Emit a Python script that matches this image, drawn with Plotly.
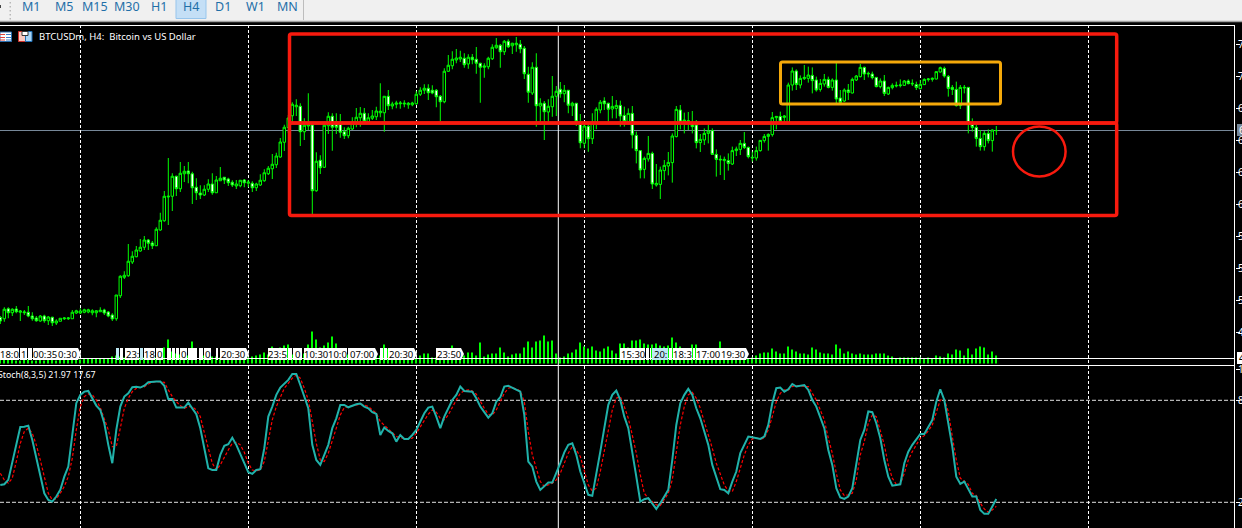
import plotly.graph_objects as go

# ---------- data ----------
opens = [
51000,50900,51700,51380,51680,51420,51380,51420,51120,50960,
50720,51120,50740,51020,50560,50700,50900,50900,50900,51360,
51360,51420,51440,51380,51380,51460,51600,51440,51200,50900,
52740,54220,54340,55440,55860,56320,56620,57200,56960,56740,
58000,58740,60640,60700,62300,61300,62500,62720,62500,61420,
60960,60800,61260,61680,60980,61940,62220,62080,61820,61520,
61540,62000,61740,61740,61380,61600,61940,62500,62900,63220,
63840,65020,66200,67140,67860,67900,65860,66320,66400,61140,
63580,63020,66340,67100,66660,66480,65860,65540,66080,66660,
66980,67340,66660,66940,67060,67380,67380,68700,67920,68060,
68100,68080,68020,68020,68100,68860,69180,69340,69180,69180,
68700,68260,70700,71140,71600,71680,71740,71280,71820,71660,
71340,71020,71060,71700,72580,72780,72260,73100,72740,72820,
72860,72540,70460,68960,71020,67920,68140,67440,67860,68700,
69260,68900,69180,67940,68140,66460,64940,66300,65300,66640,
67600,68320,68140,67680,67730,67970,67170,66670,67330,65570,
64350,62850,63680,64130,61600,61650,62750,63120,63390,65470,
67600,66670,66640,66640,66400,64990,65200,65730,65950,64050,
63600,63550,63550,63280,64350,64450,64930,64610,63760,63760,
64350,65150,65490,65630,66990,67090,67010,66610,69600,70720,
69600,70110,70130,70370,70000,69250,69680,70050,69410,70000,
68560,68320,69200,68960,70000,70270,71010,70480,70480,70210,
69470,69920,68880,69390,69520,69550,69570,69920,69680,69630,
69310,69630,70030,70050,70080,70640,70930,70290,69410,69250,
67950,69360,69410,66450,66210,65330,64670,65730,65150,65950]
highs = [
51120,51820,51820,51740,51920,51600,51600,51920,51420,51120,
51200,51220,51120,51060,50860,50940,51020,51040,51600,51620,
51740,51700,51700,51660,51600,51820,51700,51520,51340,52800,
54380,54700,56880,56300,56720,57280,57520,57280,57120,58220,
59380,61120,63760,62540,62340,63440,63120,63440,62660,62140,
61580,61580,62060,62540,62320,63040,62220,62180,61980,62000,
62000,62080,62000,61900,61780,62460,62860,63120,64080,64180,
65360,66420,67200,68220,68460,68140,66940,68940,66660,64220,
63980,66540,67420,67340,67340,67280,66220,66260,67020,67760,
67840,67760,67340,67600,67860,69740,68720,69200,68260,68340,
68320,68380,68240,68260,69100,69420,69660,69660,69580,69280,
68800,70940,72000,72300,72480,72340,72140,72060,72080,72640,
71380,71340,71860,72860,73360,72880,73200,73260,72980,73440,
73200,72720,71060,71420,72140,68540,68320,68460,70320,69520,
69840,69600,69200,68260,68140,67280,66660,66400,67340,67820,
68400,68620,68180,68720,68400,68350,67870,67730,67920,65870,
64400,63870,65520,64270,63280,63070,63600,64240,65730,67920,
68000,67390,67440,67520,66800,65680,66130,66450,66130,64450,
63970,63870,64130,64670,64670,65200,65840,64670,64270,64670,
65200,65680,65730,67440,67120,67470,67200,69790,71010,70850,
70370,71200,71070,71010,70270,70080,70480,70270,70130,71390,
69200,69330,69680,70190,70400,71280,71070,70670,70670,70210,
70130,70400,69470,69730,69870,70050,70000,70050,70050,69870,
70000,70130,70160,70210,70670,71070,71070,70400,69600,69870,
69600,69600,69410,66930,66400,66000,65920,66050,66050,66320]
lows = [
50480,50660,50940,51120,51340,50720,51200,51020,50740,50660,
50660,50580,50400,50320,50400,50700,50800,50800,50900,51280,
51280,51340,51340,51180,51020,51440,51200,51020,50720,50740,
52560,54080,54260,55280,55820,56260,56400,56400,56480,56720,
57940,58660,58400,59520,60720,61040,61840,61740,60080,60400,
60480,60720,61040,60820,60980,61940,61680,61520,61440,61280,
61420,61420,61420,61040,61120,61520,61860,62400,62080,62960,
63780,64320,65760,66660,67120,64720,65200,66000,59120,61060,
62480,62960,65680,64340,65680,65380,65280,65340,66000,66220,
66260,66540,66580,66800,66800,67020,65860,67600,67660,67740,
67700,67820,67700,67900,68020,68720,68880,68400,68860,67820,
66700,68140,70640,70860,71340,71440,70980,70900,71260,70500,
68180,70180,70860,71600,72500,70980,72000,72560,72080,72260,
72140,70080,68180,68800,66260,66400,65200,66540,67060,67120,
68580,68220,67340,67120,66320,64540,64540,64260,64880,66060,
67340,67600,66660,66930,66930,66270,66270,66450,64530,63330,
62130,62130,63470,61280,61470,60480,62000,62370,61790,65410,
66050,65730,66000,65730,64530,64240,64800,64930,64000,62270,
62400,62000,62750,63200,63920,64000,64480,63730,63470,63550,
64270,64990,64350,65470,66050,66530,66590,66530,69150,69200,
69330,70000,69790,68930,69070,69070,69470,69330,69150,68130,
68130,68240,68400,68930,69920,70210,70000,70210,70050,69410,
69330,68720,68800,69250,69410,69410,69520,69650,69520,69200,
69250,69600,69870,69870,70050,70590,70190,68670,68800,67870,
67680,68930,65730,65870,64670,64350,64350,64930,64270,65600]
closes = [
50720,51660,51380,51660,51460,51520,51440,51120,50900,50740,
51120,50740,51040,50580,50720,50940,50960,50960,51420,51540,
51520,51620,51620,51540,51540,51580,51360,51120,50880,52800,
54300,54380,55500,55900,56400,56620,57200,56940,56740,58060,
58780,60700,60700,62300,61300,62540,62700,62500,61380,60980,
60800,61260,61680,60980,62000,62140,62000,61780,61600,61680,
61980,61780,61840,61380,61680,61980,62580,62940,63260,63920,
65040,66220,66960,68060,67980,65860,66380,66400,61140,63500,
62980,66380,67100,66220,66220,65820,65540,66140,66660,67020,
67340,66700,66980,67120,67520,67500,68700,67940,68080,68160,
68160,68140,68140,68160,68860,69180,69340,68980,68960,68660,
68260,70700,71180,71660,71760,71820,71220,71820,71620,71340,
71020,71120,71740,72620,72780,72260,73100,72660,72940,72940,
72500,70500,69020,71020,67940,68140,67460,67900,68700,69100,
68900,69180,67980,68140,66660,64980,66320,65300,66660,67660,
68220,68100,67660,67890,67970,67120,66670,67330,65600,64350,
62800,63730,64130,61680,61730,62800,63170,63410,65520,67650,
66640,66800,66750,66270,64990,65250,65730,65920,64050,63650,
63650,63650,63330,64350,64480,64930,64610,63870,63810,64350,
65170,65490,65650,66990,67090,66670,67120,69600,70720,69650,
70130,70210,70400,69950,69200,69730,70050,69410,70000,68480,
68210,69200,69010,70050,70320,71010,70480,70530,70190,69470,
69920,68930,69410,69570,69570,69600,69920,69710,69730,69410,
69650,70050,70080,70130,70670,70990,70320,69330,69250,67950,
69410,69410,66530,66210,65330,64670,65730,65150,66000,65960]
volumes = [
4,4,4,4,3,3,4,4,3,3,4,3,4,4,3,4,4,4,4,4,
4,5,5,5,5,5,5,5,7,8,7,6,7,6,6,6,6,5,5,6,
8,16,24,12,10,9,8,8,22,10,9,8,8,7,7,6,7,6,7,7,
6,6,6,7,8,9,11,9,17,15,16,18,19,9,8,8,10,19,32,24,
16,18,21,27,20,12,10,9,9,8,9,10,9,8,8,8,19,15,6,5,
4,4,4,4,5,8,10,10,6,6,6,7,7,18,7,8,8,11,11,8,
21,7,9,10,10,16,11,7,9,10,10,16,22,16,22,23,28,22,23,10,
6,7,10,11,14,21,17,15,17,13,12,15,17,13,10,20,20,16,23,23,
24,20,19,19,20,18,17,18,26,21,17,12,10,19,19,10,10,10,10,10,
22,8,8,8,8,8,8,5,6,8,10,11,11,15,12,10,10,17,14,12,
10,10,9,16,14,11,10,10,9,19,15,10,12,10,9,10,9,9,9,10,
10,10,8,7,5,6,6,6,6,6,6,5,6,5,8,7,6,10,9,14,
13,8,15,9,15,17,16,9,12,8]
stoch_main = [
30.2,30.6,33.2,44,54.7,64.3,64.5,65.1,56.7,45.9,37.1,25.3,21.4,20.4,23.4,27.3,35.1,41,59.6,78.3,
83.2,85.1,85.5,81.2,76.9,74.3,66.5,53.8,43,62.6,76.3,82.2,84.1,87.7,87.9,87.5,88.6,90.6,91,91,
91,88.6,80.8,80.8,75.7,75.7,75.7,78.6,75.3,71.8,63.6,51.8,40,39,39,47.9,53.2,54.2,58,53.8,
48.9,43,37.7,36.7,39,39.5,51.8,70.4,76.3,83.2,87.5,90,92,95.5,95.5,89,82.2,75.3,53.8,44.9,
42,47.9,53.8,63.6,69.4,77.3,77.3,75.9,76.9,77.7,78.1,76.3,75.3,73,72,59.6,64,62,60.6,55.7,59.6,
57.3,57.3,59.6,62.6,67.5,72.4,75.7,76.3,70.4,63.6,70.4,75.3,80.2,83.2,88.1,85.5,85.5,85.1,81.2,
76.3,73,69.8,72.4,79.2,81.8,88.1,88.6,87.5,86.1,85.1,71.4,44,41,32.2,27.3,29.3,31.6,31.6,37.1,
43,49.4,53.8,54.7,47.9,38.1,31.2,24.4,23.8,36.1,49.8,63.6,77.3,83.2,85.7,80.2,70.4,63.6,47.9,35.1,
20.4,21.8,22.4,19.5,16.1,19.5,23.4,27.3,44.9,65.5,78.3,83.2,86.7,83.2,75.3,69.4,61.6,53.8,42,35.1,
27.7,27.3,25.3,32.2,38.1,48.9,54.2,58.7,58.3,57.7,57.3,58.7,65.5,78.3,87.1,87.5,85.1,86.5,89.6,88.1,88.6,
89,86.1,80.2,76.3,69.4,63.6,50.8,42,28.3,22.8,22,23.4,28.3,42,56.7,62.6,73.4,73,66.5,
57.7,44.9,35.1,29.8,30.2,30.6,43,49.8,53.8,56.7,60.2,60.2,64.5,68.4,79.2,86.5,80.2,65.5,52.8,35.1,
30.8,32.2,27.3,23.4,23.4,15.5,13.2,13.2,17.5,21.97]
stoch_signal = [
37.1,33.2,31.2,34.2,44,54.7,61.6,63.6,60.6,53.8,44.9,34.2,25.3,21.4,22,25.3,29.3,35.1,45.9,62.6,
76.3,82.2,83.7,83.2,80.2,75.7,69.4,62.6,52.8,52.8,63.6,75.3,81.2,85.1,87.1,87.5,87.9,89.6,90.6,91,
91,90.6,86.1,82.2,79.2,76.9,75.3,76.3,76.3,74.3,70.4,60.6,51.8,43,39,42,46.9,50.8,54.7,55.3,
53.8,49.4,43,39,38.5,39,44,56.7,68.5,76.3,82.2,87.1,90,93,94.9,93,87.1,80.2,67.5,54.7,
44.9,44,48.9,55.7,63.6,71.4,75.7,76.3,76.9,77.3,77.7,77.3,76.3,74.3,72.4,67.5,65.1,63.2,61,58.7,58.1,
57.3,57.3,57.7,60.6,64.5,68.5,71.8,74.3,73,69.4,68.5,71.4,76.3,80.2,84.1,85.7,86.1,85.5,83.6,
79.2,75.3,71.8,71.4,74.3,78.8,84.1,87.1,87.5,86.7,85.5,79.2,61.6,47.9,40,32.2,29.3,30.2,31.2,33.2,
37.1,43,48.9,52.8,50.8,46.9,38.1,30.2,26.7,28.3,38.1,50.8,63.6,74.3,81.2,82.2,76.3,69.4,59.6,48.9,
36.1,25.3,22.4,20.4,18.5,18.1,21.4,25.3,33.2,49.8,65.5,76.3,83.2,84.7,81.2,75.3,67.5,60.6,51.8,43,
36.1,30.2,26.7,26.3,32.2,40,47.9,53.8,57.3,57.7,57.3,57.7,62.6,70.4,79.2,84.1,86.1,86.1,88.1,88.5,88.6,
88.1,88.1,84.1,80.2,74.3,68.5,57.7,48.9,37.1,27.3,24,24.4,25.3,33.2,47.9,55.7,66.5,71.4,70.4,
62.6,53.8,42,34.2,30.6,30.6,37.1,44.9,49.8,53.8,57.7,59.2,62,65.5,73.4,80.2,80.6,73.4,58.7,44.9,
34.2,32.2,30.6,25.3,24,19.5,16.1,14.2,15.5,17.67]

bars = list(range(len(closes)))
price_ticks = [72880, 70320, 67760, 65200, 62640, 60080, 57520, 54960, 52400, 49840]
stoch_ticks = [98, 80, 20]
stoch_tick_text = ["100", "80", "20"]
grid_bars = [20, 62, 104, 146, 188, 230, 272]
timeframes = ["M1", "M5", "M15", "M30", "H1", "H4", "D1", "W1", "MN"]
title_text = "BTCUSDm, H4:  Bitcoin vs US Dollar"
stoch_text = "Stoch(8,3,5) 21.97 17.67"
time_labels = ["18:0", "1", "", "00:35", "0:30", "", "", "23:", "", "18", "0", "", "", "", "0", "", "", "0",
               "", "20:30", "23:5", "", "0", "10:30", "10:0", "07:00", "", "", "20:30",
               "23:50", "15:30", "", "", "20:", "", "18:3", "", "17:00", "19:30"]
last_price = closes[-1]

# ---------- layout geometry ----------
W, H, PW = 1242, 528, 1235
BLACK, WHITE, GREEN, RED = "#000000", "#ffffff", "#00ff00", "#f81a0e"
def fx(px): return px / PW
def fy(py): return 1 - py / H

tag_spans = [(0,19),(20,27),(28,32),(33,57),(57,78),(116,119),(120,123),(125,139),(140,143),(144,155),(156,163),
             (167,171),(172,175),(176,179),(180,187),(188,197),(199,203),(204,211),(216,218),(220,246),(268,287),
             (288,292),(293,302),(304,328),(328,347),(348,375),(380,383),(384,387),(388,414),
             (436,461),(620,645),(646,649),(650,651),(652,668),(669,672),(673,692),(693,695),(696,719),(719,746)]
tag_tips = {4, 19, 25, 28, 29, 38}
tag_blue = {5, 8, 33}

shapes = []
def rect(x0, y0, x1, y1, fill, line=None, lw=0, layer="above"):
    shapes.append(dict(type="rect", xref="paper", yref="paper", x0=fx(x0), x1=fx(x1), y0=fy(y0), y1=fy(y1),
                       fillcolor=fill, line=dict(color=line or fill, width=lw), layer=layer))
def hline(y, x0=0, x1=PW, color=WHITE, w=1, layer="above"):
    shapes.append(dict(type="line", xref="paper", yref="paper", x0=fx(x0), x1=fx(x1), y0=fy(y), y1=fy(y),
                       line=dict(color=color, width=w), layer=layer))
def vline(x, y0, y1, color=WHITE, w=1, layer="above"):
    shapes.append(dict(type="line", xref="paper", yref="paper", x0=fx(x), x1=fx(x), y0=fy(y0), y1=fy(y1),
                       line=dict(color=color, width=w), layer=layer))

# price line, period separator, stochastic levels (under the marks)
shapes.append(dict(type="line", xref="paper", yref="y", x0=0, x1=1, y0=last_price, y1=last_price,
                   line=dict(color="#778899", width=1), layer="below"))
shapes.append(dict(type="line", xref="x", yref="paper", x0=139.5, x1=139.5, y0=0, y1=fy(25),
                   line=dict(color=WHITE, width=1), layer="below"))
for lv in (80, 20):
    shapes.append(dict(type="line", xref="paper", yref="y2", x0=0, x1=1, y0=lv, y1=lv,
                       line=dict(color="#e0e0e0", width=1, dash="4px,2px"), layer="below"))

# pane borders
hline(25.5); hline(358.5); hline(365.5); vline(1234.5, 25, 528)

# white time tags
for i, (a, b) in enumerate(tag_spans):
    tip = 3 if i in tag_tips else 0
    fill = "#bfeaf5" if i in tag_blue else WHITE
    path = f"M{fx(a)},{fy(348)} L{fx(b)},{fy(348)} L{fx(b+tip)},{fy(354)} L{fx(b)},{fy(360)} L{fx(a)},{fy(360)} Z"
    shapes.append(dict(type="path", xref="paper", yref="paper", path=path, fillcolor=fill, line=dict(width=0)))

# hand-drawn boxes
def box(x0, y0, x1, y1, color, w):
    r = 2
    path = (f"M{fx(x0+r)},{fy(y0)} L{fx(x1-r)},{fy(y0)} Q{fx(x1)},{fy(y0)} {fx(x1)},{fy(y0+r)} "
            f"L{fx(x1)},{fy(y1-r)} Q{fx(x1)},{fy(y1)} {fx(x1-r)},{fy(y1)} L{fx(x0+r)},{fy(y1)} "
            f"Q{fx(x0)},{fy(y1)} {fx(x0)},{fy(y1-r)} L{fx(x0)},{fy(y0+r)} Q{fx(x0)},{fy(y0)} {fx(x0+r)},{fy(y0)} Z")
    shapes.append(dict(type="path", xref="paper", yref="paper", path=path, line=dict(color=color, width=w)))
box(289.5, 34, 1116.7, 123, RED, 3.5)
box(289.5, 123, 1116.7, 215.5, RED, 3.5)
box(780.5, 62, 1000.5, 104, "#f5a90a", 3)
shapes.append(dict(type="circle", xref="paper", yref="paper", x0=fx(1013), x1=fx(1065.6), y0=fy(176.5), y1=fy(126.5),
                   line=dict(color=RED, width=2.5)))

# toolbar
rect(0, 0, W, 21, "#f0f0f0")
hline(21.5, 0, W, "#a0a0a0", 1.5)
rect(176, -1, 206, 18.5, "#c4dff6", "#97c5ec", 1)
vline(303.5, 0, 20, "#bdbdbd", 1)
vline(0.5, 5, 8, "#444444", 1)
for yy in (2, 6, 10, 14, 18):
    rect(9.5, yy, 11, yy + 1.5, "#b8b8b8")

# chart icons
rect(0, 32, 11.5, 41.5, WHITE, "#2a6fb0", 1)
for yy, c in ((34, "#e0463c"), (37, "#e0463c"), (39.5, "#e0463c")):
    rect(0, yy, 5, yy + 1, c)
    rect(6, yy, 11, yy + 1, "#3f7fc4")
rect(18.5, 31.5, 25.5, 41.5, "#f9c9c0", "#d0302a", 1)
rect(25.5, 31.5, 32, 41.5, "#a8d4f5", "#1f6fb5", 1)
rect(22, 31.5, 28, 35.5, WHITE, "#333333", 1)

annotations = []
def text(px, py, s, size, color, anchor="left"):
    annotations.append(dict(xref="paper", yref="paper", x=fx(px), y=fy(py), text=s, showarrow=False,
                            xanchor=anchor, yanchor="middle", borderpad=0, borderwidth=0,
                            font=dict(family="Noto Sans, sans-serif", size=size, color=color)))
for name, cx in zip(timeframes, [31, 64, 95, 127, 159, 191, 223, 255, 287]):
    text(cx, 6.5, name, 12.5, "#1f6fa8", "center")
text(38.5, 36.5, title_text, 9.5, WHITE)
text(-2.5, 375, stoch_text, 8.8, WHITE)
for (a, b), s in zip(tag_spans, time_labels):
    if s:
        text((a + b) / 2, 354, s, 9.5, BLACK, "center")
rect(1237, 124, 1243, 136, "#778899")
rect(1237, 352, 1243, 364, WHITE)
text(1238.5, 130, "6", 10, WHITE)
text(1238.5, 358, "4", 10, BLACK)

# ---------- traces ----------
fig = go.Figure()
fig.add_trace(go.Bar(x=bars, y=volumes, width=0.2, marker=dict(color=GREEN, line=dict(width=0)), yaxis="y3", xaxis="x"))
fig.add_trace(go.Candlestick(x=bars, open=opens, high=highs, low=lows, close=closes, whiskerwidth=0,
                             increasing=dict(line=dict(color=GREEN, width=1), fillcolor=BLACK),
                             decreasing=dict(line=dict(color=GREEN, width=1), fillcolor=WHITE),
                             xaxis="x", yaxis="y"))
fig.add_trace(go.Scatter(x=bars, y=stoch_signal, mode="lines", line=dict(color="#ff0000", width=1.2, dash="3px,2px"),
                         xaxis="x2", yaxis="y2"))
fig.add_trace(go.Scatter(x=bars, y=stoch_main, mode="lines", line=dict(color="#20b2aa", width=2),
                         xaxis="x2", yaxis="y2"))

xr = [(0 - 0.3) / 4, (PW - 0.3) / 4]
xcommon = dict(range=xr, showticklabels=False, ticks="", zeroline=False, showline=False, showgrid=True, automargin=False,
               gridcolor=WHITE, griddash="3px,2px", gridwidth=1, tickmode="array", tickvals=grid_bars,
               rangeslider=dict(visible=False))
ycommon = dict(side="right", ticks="outside", ticklen=4, tickcolor=WHITE, tickwidth=1, showgrid=False, zeroline=False,
               showline=False, automargin=False, tickfont=dict(family="Noto Sans, sans-serif", size=10, color=WHITE),
               tickmode="array", ticklabelstandoff=-4)
price_labels = [str(v) for v in price_ticks]
fig.update_layout(
    template="none",
    width=W, height=H, autosize=False, showlegend=False, hovermode=False, boxgap=0.12,
    margin=dict(l=0, r=W - PW, t=0, b=0, pad=0, autoexpand=False),
    paper_bgcolor=BLACK, plot_bgcolor=BLACK,
    xaxis=dict(anchor="y", domain=[0, 1], **xcommon),
    xaxis2=dict(anchor="y2", domain=[0, 1], **xcommon),
    yaxis=dict(anchor="x", domain=[1 - 364 / H, 1 - 25 / H], range=[47280, 74400], tickvals=price_ticks,
               ticktext=price_labels, **ycommon),
    yaxis2=dict(anchor="x2", domain=[0, 1 - 366 / H], range=[4.88, 100.18], tickvals=stoch_ticks,
                ticktext=stoch_tick_text, **ycommon),
    yaxis3=dict(overlaying="y", anchor="x", domain=[1 - 364 / H, 1 - 25 / H], range=[-0.5, 338.5], visible=False),
    shapes=shapes, annotations=annotations,
)
fig.write_html("out.html", config=dict(displayModeBar=False),
               post_script="document.body.style.margin='0';document.body.style.overflow='hidden';")
